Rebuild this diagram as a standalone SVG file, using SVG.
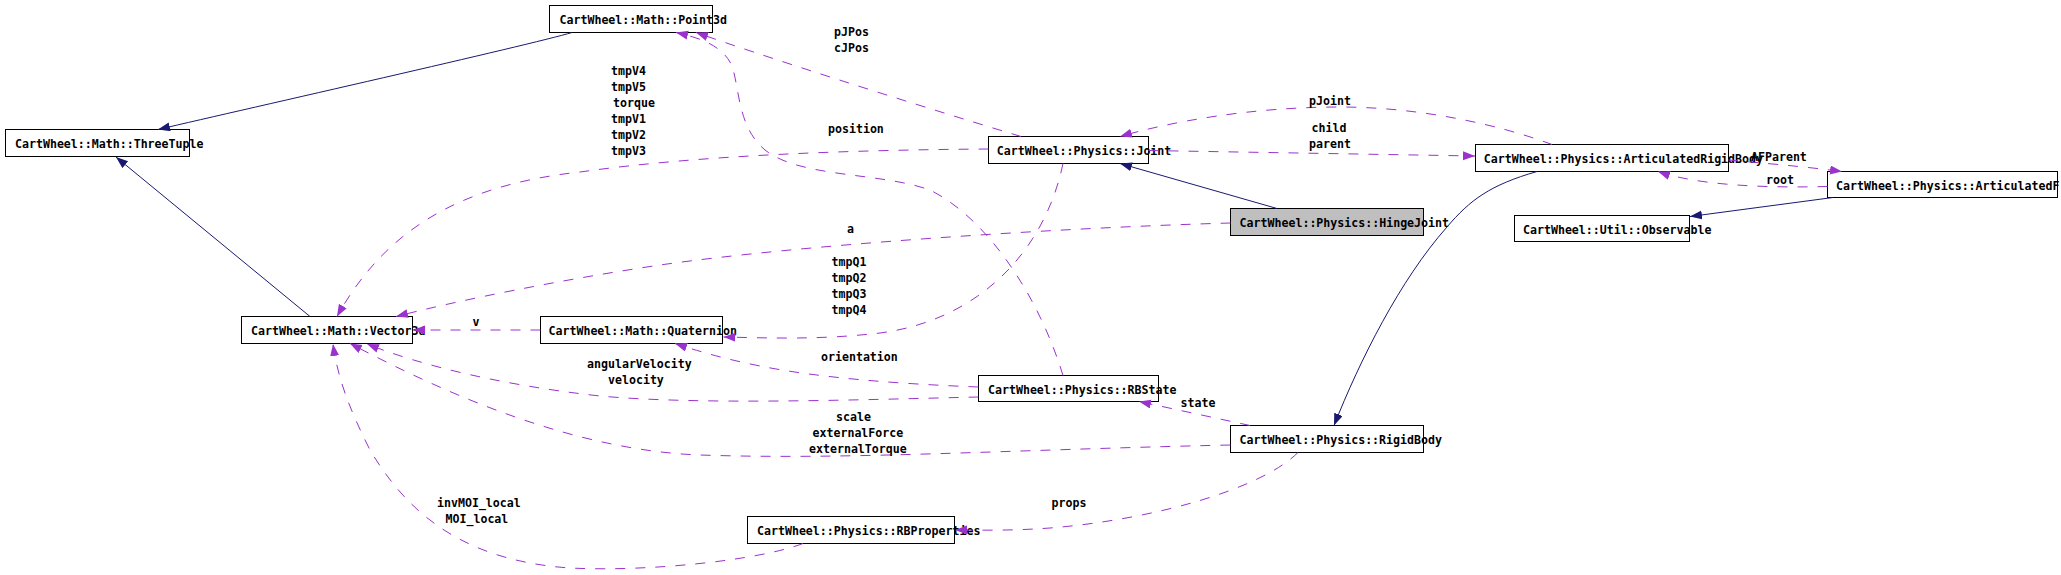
<svg xmlns="http://www.w3.org/2000/svg" width="2061" height="575" viewBox="0 0 2061 575">
<style>
.node rect{fill:#ffffff;stroke:#000000;stroke-width:1}
.node rect.hl{fill:#bfbfbf}
text{font-family:"DejaVu Sans Mono","Liberation Mono",monospace;font-size:11.6px;font-weight:bold;fill:#000000}
.inh{fill:none;stroke:#191970;stroke-width:1;marker-end:url(#ah-inh)}
.use{fill:none;stroke:#9a32cd;stroke-width:1;stroke-dasharray:10,10;marker-end:url(#ah-use)}
</style>
<defs>
<marker id="ah-inh" markerUnits="userSpaceOnUse" markerWidth="13" markerHeight="10" refX="12" refY="4.5" orient="auto"><path d="M0,0 L12,4.5 L0,9 z" fill="#191970" stroke="none"/></marker>
<marker id="ah-use" markerUnits="userSpaceOnUse" markerWidth="13" markerHeight="10" refX="12" refY="4.5" orient="auto"><path d="M0,0 L12,4.5 L0,9 z" fill="#9a32cd" stroke="none"/></marker>
</defs>
<rect x="0" y="0" width="2061" height="575" fill="#ffffff"/>

<g id="node-Point3d" class="node"><rect x="549.5" y="5.5" width="163" height="27"/><text x="559.5" y="23.5">CartWheel::Math::Point3d</text></g>
<g id="node-ThreeTuple" class="node"><rect x="5.5" y="129.5" width="184" height="27"/><text x="15" y="147.5">CartWheel::Math::ThreeTuple</text></g>
<g id="node-Vector3d" class="node"><rect x="241.5" y="316.5" width="171" height="27"/><text x="251" y="334.5">CartWheel::Math::Vector3d</text></g>
<g id="node-Quaternion" class="node"><rect x="540.5" y="316.5" width="182" height="27"/><text x="548.5" y="334.5">CartWheel::Math::Quaternion</text></g>
<g id="node-Joint" class="node"><rect x="988.5" y="136.5" width="160" height="27"/><text x="996.8" y="154.5">CartWheel::Physics::Joint</text></g>
<g id="node-ArticulatedRigidBody" class="node"><rect x="1475.5" y="144.5" width="253" height="27"/><text x="1483.8" y="162.5">CartWheel::Physics::ArticulatedRigidBody</text></g>
<g id="node-ArticulatedFigure" class="node"><rect x="1827.5" y="171.5" width="230" height="26"/><text x="1836" y="189.5">CartWheel::Physics::ArticulatedF</text></g>
<g id="node-Observable" class="node"><rect x="1514.5" y="215.5" width="175" height="26"/><text x="1523" y="233.5">CartWheel::Util::Observable</text></g>
<g id="node-HingeJoint" class="node"><rect class="hl" x="1230.5" y="208.5" width="193" height="27"/><text x="1239.6" y="226.5">CartWheel::Physics::HingeJoint</text></g>
<g id="node-RigidBody" class="node"><rect x="1230.5" y="425.5" width="193" height="27"/><text x="1239.5" y="443.5">CartWheel::Physics::RigidBody</text></g>
<g id="node-RBState" class="node"><rect x="978.5" y="375.5" width="180" height="26"/><text x="988" y="393.5">CartWheel::Physics::RBState</text></g>
<g id="node-RBProperties" class="node"><rect x="747.5" y="516.5" width="207" height="27"/><text x="757" y="534.5">CartWheel::Physics::RBProperties</text></g>

<g id="connectors">
<path class="inh" d="M572,32.5 C530,45 250,108 158,129.5"/>
<path class="inh" d="M310,316.5 L116,157"/>
<path class="use" d="M1021,136.5 C900,100 760,55 696,32.5"/>
<path class="use" d="M1063,375.5 C1040,300 990,220 930,190 C880,172 800,178 765,150 C735,125 740,80 730,62 C720,45 700,38 676,32.5"/>
<path class="use" d="M1148.5,150.5 L1475,156"/>
<path class="use" d="M1552,144.5 C1500,125 1420,107 1340,107 C1250,107 1170,122 1120,136.5"/>
<path class="inh" d="M1277,208.5 L1120,163.5"/>
<path class="use" d="M1230.5,223 C1050,228 800,245 660,265 C560,280 460,300 396,316.5"/>
<path class="use" d="M988.5,149 C850,150 700,155 580,172 C460,185 385,230 337,316.5"/>
<path class="use" d="M1063,163.5 C1045,250 980,320 880,333 C820,340 770,338 723.5,337"/>
<path class="use" d="M540.5,330 L413,330"/>
<path class="use" d="M978.5,387 C900,384 820,378 760,366 C720,358 695,350 675,343.5"/>
<path class="use" d="M978.5,397 C850,400 700,405 600,396 C500,385 420,365 367,344"/>
<path class="use" d="M1230.5,445 C1000,450 850,460 700,455 C560,450 420,380 350,343.5"/>
<path class="use" d="M803,543.5 C760,560 650,572 570,568 C450,560 400,500 370,450 C350,410 338,380 333,344"/>
<path class="use" d="M1298,452.5 C1260,490 1150,520 1050,528 C1010,531 980,530 955,530"/>
<path class="use" d="M1250,425.5 L1139,401.5"/>
<path class="inh" d="M1537,171.5 C1490,185 1470,200 1447,227 C1400,280 1360,360 1334,425.5"/>
<path class="use" d="M1728.5,160 C1760,163 1800,166 1842,171.5"/>
<path class="use" d="M1827.5,186.5 C1770,188 1700,186 1658,171.5"/>
<path class="inh" d="M1833,197.5 L1690,216.5"/>
</g>

<g id="edge-labels">
<text x="611" y="74.5">tmpV4</text>
<text x="611" y="90.5">tmpV5</text>
<text x="613" y="106.5">torque</text>
<text x="611" y="122.5">tmpV1</text>
<text x="611" y="138.5">tmpV2</text>
<text x="611" y="154.5">tmpV3</text>
<text x="834" y="36">pJPos</text>
<text x="834" y="52">cJPos</text>
<text x="828" y="133">position</text>
<text x="1309" y="105">pJoint</text>
<text x="1311.5" y="132">child</text>
<text x="1309" y="148">parent</text>
<text x="847" y="232.5">a</text>
<text x="831.5" y="266">tmpQ1</text>
<text x="831.5" y="282">tmpQ2</text>
<text x="831.5" y="298">tmpQ3</text>
<text x="831.5" y="314">tmpQ4</text>
<text x="472.5" y="325.5">v</text>
<text x="821" y="360.5">orientation</text>
<text x="587" y="367.5">angularVelocity</text>
<text x="608" y="383.5">velocity</text>
<text x="836" y="420.5">scale</text>
<text x="812.5" y="436.5">externalForce</text>
<text x="809" y="452.5">externalTorque</text>
<text x="1180.5" y="407">state</text>
<text x="437" y="507">invMOI_local</text>
<text x="445.5" y="523">MOI_local</text>
<text x="1051.5" y="506.5">props</text>
<text x="1751" y="160.5">AFParent</text>
<text x="1766" y="183.5">root</text>
</g>
</svg>
